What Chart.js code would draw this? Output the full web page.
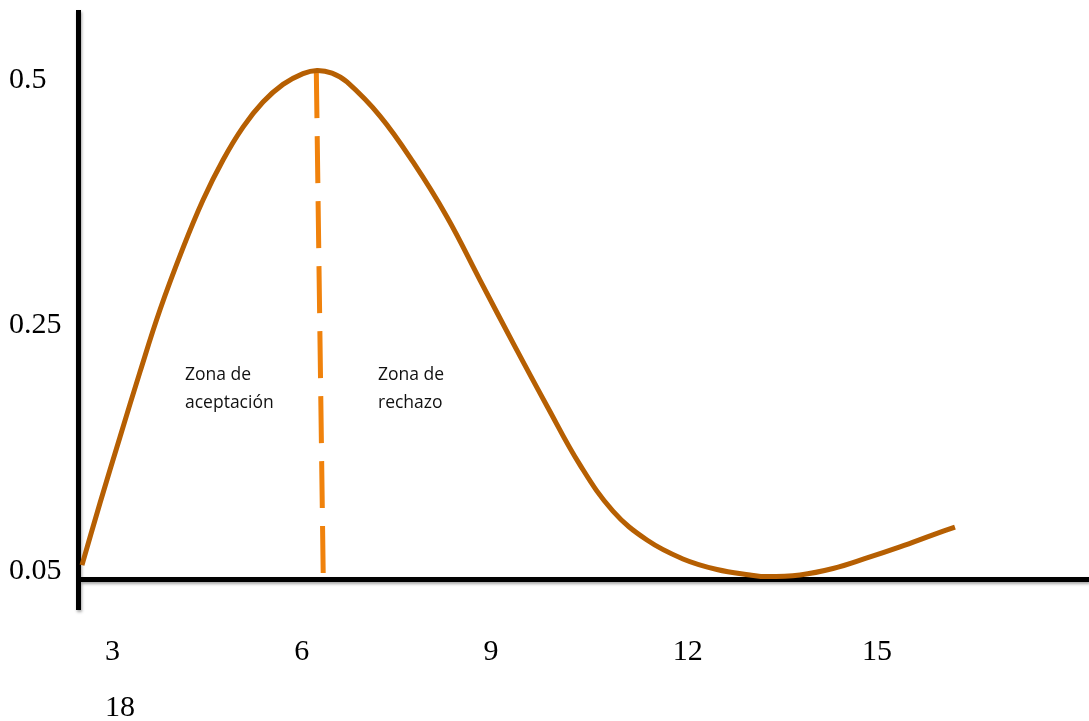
<!DOCTYPE html>
<html>
<head>
<meta charset="utf-8">
<script src="https://cdn.jsdelivr.net/npm/chart.js@4"></script>
<style>
  html, body { margin: 0; padding: 0; background: #fff; }
  canvas { display: block; }
</style>
</head>
<body>
<canvas id="grafico" width="1089" height="721"></canvas>
<script>
// curva de la distribucion (x en unidades del eje, y en posicion de marca: 0 = 0.05, 1 = 0.25, 2 = 0.5)
const xCurva = [2.635, 2.921, 3.238, 3.555, 3.872, 4.237, 4.554, 4.871, 5.188, 5.505, 5.822, 6.139,
                6.361, 6.599, 6.836, 7.360, 7.883, 8.422, 8.945, 9.468, 10.007, 10.530, 11.053,
                11.592, 12.163, 12.702, 13.225, 13.495, 14.018, 14.541, 15.080, 15.603, 16.126, 16.475]
const yCurva = [0.018, 0.271, 0.540, 0.805, 1.058, 1.310, 1.505, 1.668, 1.802, 1.904, 1.976, 2.020,
                2.033, 2.022, 1.986, 1.847, 1.660, 1.436, 1.179, 0.923, 0.666, 0.426, 0.238,
                0.120, 0.043, 0.000, -0.022, -0.029, -0.022, 0.004, 0.047, 0.092, 0.141, 0.173]
// linea de corte entre zonas
const xCorte = [6.35, 6.46]
const yCorte = [2.03, -0.03]

const xTicks = [3, 6, 9, 12, 15, 18]
const yTicks = ['0.05', '0.25', '0.5']
const zonas = [['Zona de', 'aceptación'], ['Zona de', 'rechazo']]

const ejes = {
  id: 'ejes',
  beforeDatasetsDraw(chart) {
    const { ctx, chartArea: a } = chart
    ctx.save()
    ctx.strokeStyle = '#000'
    ctx.lineWidth = 5
    ctx.shadowColor = 'rgba(0,0,0,0.35)'
    ctx.shadowBlur = 3
    ctx.shadowOffsetX = 1
    ctx.shadowOffsetY = 2
    ctx.beginPath()
    ctx.moveTo(a.left + 0.5, a.top)
    ctx.lineTo(a.left + 0.5, a.bottom + 31)
    ctx.moveTo(a.left, a.bottom + 0.5)
    ctx.lineTo(a.right, a.bottom + 0.5)
    ctx.stroke()
    ctx.restore()

    ctx.save()
    ctx.font = '17.5px "Open Sans"'
    ctx.fillStyle = '#111'
    ctx.textBaseline = 'alphabetic'
    const izq = [185, 378]
    zonas.forEach((z, i) => z.forEach((t, j) => ctx.fillText(t, izq[i], 380 + j * 28)))
    ctx.restore()
  }
}

const fuente = { family: '"Liberation Serif"', size: 30 }

new Chart(document.getElementById('grafico'), {
  type: 'line',
  data: {
    datasets: [{
      data: xCurva.map((x, i) => ({ x: x, y: yCurva[i] })),
      borderColor: '#b65f02',
      borderWidth: 5,
      pointRadius: 0,
      tension: 0.4,
      clip: false
    }, {
      data: xCorte.map((x, i) => ({ x: x, y: yCorte[i] })),
      borderColor: '#f0820c',
      borderWidth: 5,
      borderDash: [47, 18],
      borderCapStyle: 'butt',
      pointRadius: 0,
      clip: false
    }]
  },
  options: {
    responsive: false,
    animation: false,
    layout: { padding: { left: 9, top: 10, right: 0, bottom: 0 } },
    plugins: { legend: { display: false }, tooltip: { enabled: false } },
    scales: {
      x: {
        type: 'linear',
        min: 2.572,
        max: 18.6,
        grid: { display: false, drawTicks: false },
        border: { display: false },
        afterBuildTicks: s => { s.ticks = xTicks.slice(0, -1).map(v => ({ value: v })) },
        afterFit: s => { s.height = 142; s.paddingLeft = 0; s.paddingRight = 0 },
        ticks: {
          autoSkip: false,
          maxRotation: 0,
          align: 'start',
          padding: 45,
          color: '#000',
          font: { ...fuente, lineHeight: 1.87 },
          // el ultimo rotulo cae en una segunda linea bajo el primero
          callback: (v, i) => i === 0 ? [String(v), String(xTicks[xTicks.length - 1])] : String(v)
        }
      },
      y: {
        type: 'linear',
        min: -0.0387,
        max: 2.279,
        grid: { display: false, drawTicks: false },
        border: { display: false },
        afterBuildTicks: s => { s.ticks = yTicks.map((t, i) => ({ value: i })) },
        afterFit: s => { s.width = 69; s.paddingTop = 0; s.paddingBottom = 0 },
        ticks: {
          crossAlign: 'far',
          padding: 0,
          labelOffset: 1.5,
          color: '#000',
          font: fuente,
          callback: (v, i) => yTicks[i]
        }
      }
    }
  },
  plugins: [ejes]
})
</script>
</body>
</html>
